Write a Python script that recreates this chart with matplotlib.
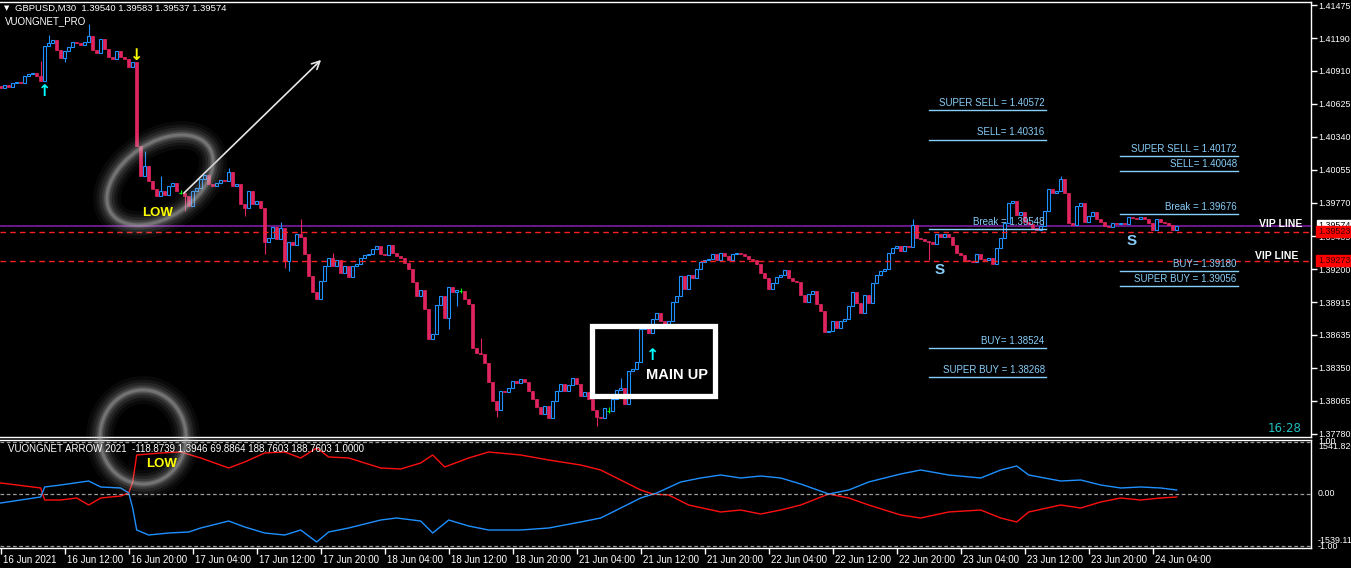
import matplotlib
matplotlib.use('Agg')
import matplotlib.pyplot as plt
from matplotlib.patches import Ellipse, Rectangle
from matplotlib.transforms import blended_transform_factory, ScaledTranslation
import numpy as np

plt.rcParams['font.family'] = ['Liberation Sans', 'DejaVu Sans']

# ---- data (GBPUSD M30, bar index 0 = 16 Jun 00:00) ----
first_open = 1.4078
closes = [
    1.4076, 1.4079, 1.4077, 1.4080, 1.4081, 1.4080, 1.4086, 1.4088, 1.4089, 1.4086,
    1.4082, 1.4112, 1.4115, 1.4117, 1.4109, 1.4102, 1.4108, 1.4111, 1.4116, 1.4115,
    1.4113, 1.4116, 1.4121, 1.4109, 1.4106, 1.4118, 1.4110, 1.4103, 1.4101, 1.4108,
    1.4103, 1.4101, 1.4094, 1.4098, 1.4026, 1.4000, 1.4009, 1.3996, 1.3989, 1.3983,
    1.3987, 1.3984, 1.3992, 1.3994, 1.3987, 1.3986, 1.3983, 1.3974, 1.3987, 1.3990,
    1.3998, 1.4001, 1.3993, 1.3992, 1.3994, 1.3997, 1.3996, 1.4004, 1.3992, 1.3993,
    1.3976, 1.3973, 1.3987, 1.3976, 1.3979, 1.3973, 1.3943, 1.3947, 1.3956, 1.3946,
    1.3955, 1.3927, 1.3943, 1.3941, 1.3950, 1.3948, 1.3933, 1.3914, 1.3900, 1.3894,
    1.3910, 1.3923, 1.3930, 1.3923, 1.3928, 1.3917, 1.3923, 1.3913, 1.3923, 1.3924,
    1.3930, 1.3932, 1.3933, 1.3937, 1.3940, 1.3933, 1.3932, 1.3941, 1.3934, 1.3931,
    1.3930, 1.3925, 1.3920, 1.3909, 1.3897, 1.3902, 1.3886, 1.3860, 1.3864, 1.3889,
    1.3897, 1.3878, 1.3905, 1.3900, 1.3902, 1.3901, 1.3894, 1.3890, 1.3852, 1.3848,
    1.3847, 1.3839, 1.3823, 1.3806, 1.3799, 1.3815, 1.3814, 1.3818, 1.3824, 1.3822,
    1.3825, 1.3823, 1.3815, 1.3808, 1.3801, 1.3795, 1.3802, 1.3792, 1.3806, 1.3815,
    1.3821, 1.3815, 1.3820, 1.3826, 1.3821, 1.3811, 1.3814, 1.3808, 1.3799, 1.3793,
    1.3792, 1.3800, 1.3798, 1.3808, 1.3816, 1.3818, 1.3804, 1.3832, 1.3834, 1.3840,
    1.3868, 1.3870, 1.3865, 1.3877, 1.3882, 1.3875, 1.3873, 1.3875, 1.3892, 1.3897,
    1.3914, 1.3903, 1.3915, 1.3912, 1.3920, 1.3926, 1.3928, 1.3929, 1.3933, 1.3928,
    1.3934, 1.3931, 1.3928, 1.3933, 1.3934, 1.3933, 1.3931, 1.3929, 1.3928, 1.3924,
    1.3917, 1.3912, 1.3903, 1.3908, 1.3913, 1.3915, 1.3919, 1.3912, 1.3910, 1.3909,
    1.3898, 1.3892, 1.3899, 1.3901, 1.3890, 1.3884, 1.3866, 1.3867, 1.3875, 1.3869,
    1.3875, 1.3877, 1.3888, 1.3900, 1.3891, 1.3882, 1.3898, 1.3891, 1.3908, 1.3915,
    1.3918, 1.3920, 1.3934, 1.3938, 1.3940, 1.3936, 1.3940, 1.3939, 1.3958, 1.3947,
    1.3946, 1.3944, 1.3943, 1.3942, 1.3950, 1.3948, 1.3950, 1.3948, 1.3941, 1.3934,
    1.3932, 1.3928, 1.3927, 1.3926, 1.3933, 1.3929, 1.3928, 1.3930, 1.3924, 1.3938,
    1.3947, 1.3960, 1.3977, 1.3979, 1.3967, 1.3969, 1.3961, 1.3959, 1.3955, 1.3954,
    1.3957, 1.3970, 1.3989, 1.3986, 1.3987, 1.3998, 1.3986, 1.3960, 1.3958, 1.3974,
    1.3977, 1.3961, 1.3966, 1.3969, 1.3963, 1.3961, 1.3957, 1.3956, 1.3960, 1.3959,
    1.3960, 1.3959, 1.3965, 1.3964, 1.3963, 1.3965, 1.3963, 1.3960, 1.3954, 1.3963,
    1.3961, 1.3960, 1.3958, 1.3954, 1.3957,
]
wick_high = {10: 1.4099, 12: 1.4122, 22: 1.4131, 36: 1.4022, 40: 1.4000, 57: 1.4007,
             70: 1.3961, 75: 1.3963, 83: 1.3934, 120: 1.3861, 155: 1.3826, 228: 1.3963,
             265: 1.4000}
wick_low = {16: 1.4098, 46: 1.3970, 61: 1.3966, 66: 1.3933, 71: 1.3921, 72: 1.3918,
            112: 1.3868, 114: 1.3888, 124: 1.3793, 149: 1.3785, 232: 1.3928}
doji_bars = [45, 115, 152]

price_ticks = [1.41475, 1.41190, 1.40910, 1.40625, 1.40340, 1.40055, 1.39770, 1.39485,
               1.39200, 1.38915, 1.38635, 1.38350, 1.38065, 1.37780]
time_labels = ['16 Jun 2021', '16 Jun 12:00', '16 Jun 20:00', '17 Jun 04:00', '17 Jun 12:00',
               '17 Jun 20:00', '18 Jun 04:00', '18 Jun 12:00', '18 Jun 20:00', '21 Jun 04:00',
               '21 Jun 12:00', '21 Jun 20:00', '22 Jun 04:00', '22 Jun 12:00', '22 Jun 20:00',
               '23 Jun 04:00', '23 Jun 12:00', '23 Jun 20:00', '24 Jun 04:00']

levels_a = [('SUPER SELL = 1.40572', 1.40572), ('SELL= 1.40316', 1.40316),
            ('Break = 1.39548', 1.39548), ('BUY= 1.38524', 1.38524),
            ('SUPER BUY = 1.38268', 1.38268)]
levels_b = [('SUPER SELL = 1.40172', 1.40172), ('SELL= 1.40048', 1.40048),
            ('Break = 1.39676', 1.39676), ('BUY= 1.39180', 1.39180),
            ('SUPER BUY = 1.39056', 1.39056)]
vip_lines = [1.39523, 1.39273]
bid = 1.39574

up_bars, up_prices = [11, 163], [1.4073, 1.3846]
down_bars, down_prices = [34], [1.4104]

red_bars = [0, 10, 11, 15, 19, 22, 25, 30, 32, 33, 34, 40, 45, 50, 57, 61, 66, 71, 75, 79,
            82, 87, 95, 100, 105, 108, 111, 117, 122, 130, 137, 145, 150, 155, 160, 163,
            167, 172, 180, 185, 190, 195, 200, 207, 212, 217, 225, 230, 237, 245, 250,
            254, 257, 265, 270, 275, 280, 285, 290, 294]
red_vals = [361, 197, -197, -197, -131, -361, -131, -66, 33, 394, 1279, 1345, 1378, 1181,
            853, 1050, 1345, 1378, 1181, 1509, 1214, 1181, 853, 820, 1017, 1279, 886, 1181,
            1378, 1279, 1115, 951, 787, 459, 131, 0, -33, -361, -590, -525, -656, -525,
            -361, 0, -131, -361, -689, -787, -590, -525, -787, -918, -590, -361, -459,
            -262, -131, -197, -131, -98]
blue_bars = [0, 10, 11, 15, 22, 25, 30, 32, 33, 34, 37, 42, 47, 50, 57, 61, 66, 71, 75, 79,
             82, 87, 95, 99, 105, 108, 112, 117, 122, 130, 137, 145, 150, 155, 160, 164,
             170, 175, 180, 185, 190, 195, 200, 207, 212, 217, 225, 230, 237, 245, 250,
             254, 257, 265, 270, 275, 280, 285, 290, 294]
blue_vals = [-295, -98, 230, 295, 426, 230, 197, 33, -459, -1181, -1345, -1279, -1246,
             -1115, -886, -1082, -1279, -1345, -1181, -1574, -1246, -1115, -853, -787, -886,
             -1279, -853, -1050, -1181, -1181, -1115, -918, -787, -459, -131, 33, 394, 525,
             623, 525, 590, 525, 328, 0, 131, 394, 656, 787, 623, 525, 787, 918, 623, 426,
             459, 295, 197, 230, 197, 131]

BULL = '#1E90FF'
BEAR = '#E0245E'
LVL = '#87CEFA'
W = 1351
H = 568
AXFS = 6.4

fig = plt.figure(figsize=(W / 100, H / 100), dpi=100, facecolor='black')
ax = fig.add_axes([0, 1 - 437 / H, 1311 / W, 435 / H], facecolor='black')
ind = fig.add_axes([0, 1 - 548 / H, 1311 / W, 108 / H], facecolor='black')

# ---- candles ----
n = len(closes)
idx = np.arange(n)
c = np.array(closes)
o = np.array([first_open] + closes[:-1])
hi = np.maximum(o, c)
lo = np.minimum(o, c)
for b, v in wick_high.items():
    hi[b] = v
for b, v in wick_low.items():
    lo[b] = v
is_doji = np.isin(idx, doji_bars)
bull = (c > o) & ~is_doji
bear = (c <= o) & ~is_doji

ax.vlines(idx[bull], lo[bull], hi[bull], color=BULL, lw=0.8, zorder=2)
ax.bar(idx[bull], (c - o)[bull], bottom=o[bull], width=0.62, facecolor='black',
       edgecolor=BULL, lw=0.8, zorder=3)
ax.vlines(idx[bear], lo[bear], hi[bear], color=BEAR, lw=0.8, zorder=2)
ax.bar(idx[bear], np.maximum((o - c)[bear], 0.00003), bottom=c[bear], width=0.62,
       facecolor=BEAR, edgecolor=BEAR, lw=0.5, zorder=3)
ax.vlines(idx[is_doji], lo[is_doji] - 0.00015, hi[is_doji] + 0.00015, color='#00FF00', lw=0.8, zorder=3)
ax.hlines(c[is_doji], idx[is_doji] - 0.4, idx[is_doji] + 0.4, color='#00FF00', lw=0.8, zorder=3)

# signal arrows
for b, p in zip(up_bars, up_prices):
    ax.text(b, p, '\u2191', color='#00FFFF', fontsize=11.5, fontweight='bold',
            family='DejaVu Sans', ha='center', va='center', zorder=5)
for b, p in zip(down_bars, down_prices):
    ax.text(b, p, '\u2193', color='#FFFF00', fontsize=11.5, fontweight='bold',
            family='DejaVu Sans', ha='center', va='center', zorder=5)

# horizontal lines
ax.axhline(bid, color='#7B1FA2', lw=1.2, zorder=1)
for v in vip_lines:
    ax.axhline(v, color='#FF2020', lw=1.0, ls=(0, (4, 3)), zorder=4)

# level objects
for (lab, v), (x0, x1) in [(l, (232.1, 261.3)) for l in levels_a] + [(l, (279.8, 309.3)) for l in levels_b]:
    ax.plot([x0, x1], [v, v], color=LVL, lw=1.0, zorder=4)
    ax.annotate(lab, (x1 - 0.3, v), xytext=(0, 1.5), textcoords='offset points',
                ha='right', va='bottom', color=LVL, fontsize=7, zorder=6)

ax.text(234.8, 1.39192, 'S', color=LVL, fontsize=11, fontweight='bold', ha='center', va='center', zorder=6)
ax.text(282.8, 1.39442, 'S', color=LVL, fontsize=11, fontweight='bold', ha='center', va='center', zorder=6)
ax.annotate('VIP LINE', (325.5, vip_lines[0]), xytext=(0, 2), textcoords='offset points',
            ha='right', va='bottom', color='white', fontsize=7.5, fontweight='bold', zorder=6)
ax.annotate('VIP LINE', (324.3, vip_lines[1]), xytext=(0, 0), textcoords='offset points',
            ha='right', va='bottom', color='white', fontsize=7.5, fontweight='bold', zorder=6)

# hand drawn objects: arrow and box
ax.annotate('', xy=(80.6, 1.41019), xytext=(45.3, 1.39838),
            arrowprops=dict(arrowstyle='->', color='#E6E6E6', lw=1.2, mutation_scale=14), zorder=6)
ax.add_patch(Rectangle((147.7, 1.38103), 30.75, 0.00611, fill=False, edgecolor='white', lw=3.8, zorder=6))
ax.text(176.9, 1.38285, 'MAIN UP', color='white', fontsize=10.5, fontweight='bold',
        ha='right', va='center', zorder=6)

ax.set_xlim(-0.175, 327.575)
ax.set_ylim(1.37754, 1.41501)
ax.set_xticks([])
ax.yaxis.tick_right()
ax.set_yticks(price_ticks)
ax.set_yticklabels(['%.5f' % t for t in price_ticks])
ax.tick_params(axis='y', colors='white', labelcolor='white', direction='out', length=4,
               width=1, labelsize=AXFS, pad=1.5)
ax.spines['left'].set_visible(False)
for s in ['right', 'bottom', 'top']:
    ax.spines[s].set_color('white')
    ax.spines[s].set_linewidth(1)

bt = blended_transform_factory(ax.transAxes, ax.transData)
ax.text(1.0052, bid, '1.39574', transform=bt, color='black', fontsize=AXFS, va='center', ha='left',
        bbox=dict(boxstyle='square,pad=0.12', facecolor='white', edgecolor='white'), zorder=7, clip_on=False)
for v in vip_lines:
    ax.text(1.0052, v, '%.5f' % v, transform=bt, color='#3A0000', fontsize=AXFS, va='center', ha='left',
            bbox=dict(boxstyle='square,pad=0.15', facecolor='#FF0000', edgecolor='#FF0000'),
            zorder=7, clip_on=False)

# ---- indicator panel ----
ind.plot(red_bars, red_vals, color='#FF1010', lw=1.0)
ind.plot(blue_bars, blue_vals, color='#1E90FF', lw=1.0)
for lv in [1710, 0, -1710]:
    ind.axhline(lv, color='#9A9A9A', lw=0.9, ls=(0, (3, 2)))
ind.set_xlim(-0.175, 327.575)
ind.set_ylim(-1771, 1771)
ind.set_yticks([])
ind.set_xticks(np.arange(0, n, 16))
ind.set_xticklabels(time_labels)
ind.tick_params(axis='x', colors='white', labelcolor='white', direction='out', length=4,
                width=1, labelsize=7, pad=1)
off = ScaledTranslation(2 / 72, 0, fig.dpi_scale_trans)
for lab in ind.get_xticklabels():
    lab.set_horizontalalignment('left')
    lab.set_transform(lab.get_transform() + off)
ind.spines['left'].set_visible(False)
for s in ['right', 'bottom', 'top']:
    ind.spines[s].set_color('white')
    ind.spines[s].set_linewidth(1)
bi = blended_transform_factory(ind.transAxes, ind.transData)
for txt, v in [('1.00', 1710), ('1541.820', 1541.82), ('0.00', 0), ('-1539.11', -1539.11), ('-1.00', -1710)]:
    ind.text(1.0052, v, txt, transform=bi, color='white', fontsize=AXFS, va='center', ha='left', clip_on=False)

# ---- overlay for chart captions and glow drawings (pixel coords) ----
ov = fig.add_axes([0, 0, 1, 1], facecolor='none')
ov.set_xlim(0, W)
ov.set_ylim(H, 0)
ov.axis('off')

def glow(cx, cy, w, h, ang):
    for lw, a in [(20, 0.05), (15, 0.07), (11, 0.10), (7, 0.14), (4, 0.22), (2, 0.28)]:
        ov.add_patch(Ellipse((cx, cy), w, h, angle=ang, fill=False, edgecolor='#BEBEBE', lw=lw, alpha=a))

glow(160, 180, 118, 74, -34)
glow(143, 437, 86, 94, 0)

ov.text(158, 213, 'LOW', color='#FFFF00', fontsize=9.5, fontweight='bold', ha='center', va='center')
ov.text(162, 464, 'LOW', color='#FFFF00', fontsize=9.5, fontweight='bold', ha='center', va='center')
ov.text(4, 8, '\u25bc', color='white', fontsize=5, ha='left', va='center', family='DejaVu Sans')
ov.text(15, 8, 'GBPUSD,M30  1.39540 1.39583 1.39537 1.39574', color='white', fontsize=6.8, ha='left', va='center')
ov.text(5, 21, 'VUONGNET_PRO', color='white', fontsize=7, ha='left', va='center')
ov.text(8, 449, 'VUONGNET ARROW 2021  -118.8739 1.3946 69.8864 188.7603 188.7603 1.0000',
        color='white', fontsize=7, ha='left', va='center')
ov.text(1302, 429, '16:28', color='#20C0C0', fontsize=8.5, ha='right', va='center', family='DejaVu Sans')

fig.savefig('out.png', dpi=100, facecolor='black')
